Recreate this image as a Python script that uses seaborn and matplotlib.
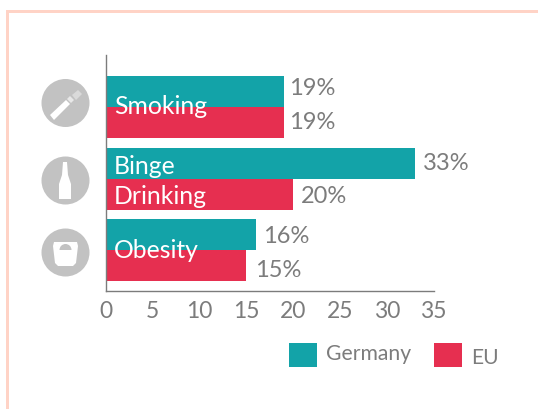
import matplotlib
matplotlib.use("Agg")
import matplotlib.pyplot as plt
from matplotlib.patches import Circle, Rectangle, Polygon, Wedge
import pandas as pd
import seaborn as sns

categories = ["Smoking", "Binge Drinking", "Obesity"]
germany = [19, 33, 16]
eu = [19, 20, 15]
series_names = ["Germany", "EU"]
x_ticks = [0, 5, 10, 15, 20, 25, 30, 35]

TEAL, RED, GREY, ICON, PINK = "#13A3A8", "#E62F50", "#7C7C7C", "#C2C2C2", "#FFD3C6"

sns.set_theme(style="white")
plt.rcParams["font.family"] = ["Lato", "DejaVu Sans"]

df = pd.DataFrame({
    "category": categories * 2,
    "series": [series_names[0]] * 3 + [series_names[1]] * 3,
    "value": germany + eu,
})

W, H = 538, 409
fig = plt.figure(figsize=(W / 100, H / 100), dpi=100, facecolor="white")
ax = fig.add_axes([106 / W, 1 - 291 / H, (433.5 - 106) / W, (291 - 55) / H])
sns.barplot(data=df, y="category", x="value", hue="series", order=categories,
            hue_order=series_names, palette=[TEAL, RED], orient="y",
            width=0.867, gap=0, saturation=1, legend=False, ax=ax, edgecolor="none")
ax.set_xlim(0, 35)
ax.set_ylim(2.573, -0.727)
ax.set_xticks(x_ticks)
ax.set_yticks([])
ax.set_xlabel("")
ax.set_ylabel("")
ax.tick_params(axis="x", length=0, pad=7.5, labelsize=16.5, labelcolor=GREY)
for s in ["top", "right"]:
    ax.spines[s].set_visible(False)
for s in ["left", "bottom"]:
    ax.spines[s].set_color(GREY)
    ax.spines[s].set_linewidth(1.0)

# per-label offsets (px right, px down) matching the hand placement in the reference
offsets = [[(5, -3), (8, 0), (7.5, 2)], [(5, 0), (7.5, 2), (8.5, 4.5)]]
for c, offs in zip(ax.containers, offsets):
    for t, (dx, dy) in zip(ax.bar_label(c, fmt="%d%%", fontsize=17, color=GREY), offs):
        t.xyann = (dx * 0.72, -dy * 0.72)
ax.patch.set_alpha(0)

ov = fig.add_axes([0, 0, 1, 1], zorder=5)
ov.set_xlim(0, W)
ov.set_ylim(H, 0)
ov.axis("off")

# frame
ov.add_patch(Rectangle((6, 10), 2.5, H, color=PINK, lw=0))
ov.add_patch(Rectangle((6, 10), W, 2.5, color=PINK, lw=0))

# category labels
lab = dict(color="white", fontsize=17.8, va="center", ha="left")
ov.text(114, 106, "Smoking", **lab)
ov.text(114, 166, "Binge", **lab)
ov.text(114, 197, "Drinking", **lab)
ov.text(114, 251, "Obesity", **lab)

# icons
for cy in [103, 180.5, 252.5]:
    ov.add_patch(Circle((65.5, cy), 24, color=ICON, lw=0))
# cigarette
ov.add_patch(Polygon([(50, 115), (66, 100), (70, 104), (54, 120)], color="white", lw=0))
ov.add_patch(Polygon([(67, 99), (70, 96), (74, 100), (71, 103)], color="#E8E8E8", lw=0))
ov.add_patch(Polygon([(72, 95), (78, 90), (82, 94), (76, 100)], color="#DADADA", lw=0))
# bottle
ov.add_patch(Polygon([(63, 162), (67, 162), (68, 175), (71, 184), (71, 199), (59, 199), (59, 184), (62, 175)],
                     color="white", lw=0))
# scale
ov.add_patch(Polygon([(54, 242), (77, 242), (78, 246), (76, 263), (73, 266), (58, 266), (55, 263), (53, 246)],
                     color="white", lw=0))
ov.add_patch(Wedge((65.5, 250), 6, 180, 360, color=ICON, lw=0))

# legend
ov.add_patch(Rectangle((289, 343), 28, 24, color=TEAL, lw=0))
ov.add_patch(Rectangle((434, 343), 28, 24, color=RED, lw=0))
ov.text(326, 354.5, series_names[0], color=GREY, fontsize=15.2, va="center", ha="left")
ov.text(471, 357.5, series_names[1], color=GREY, fontsize=15.2, va="center", ha="left")

fig.savefig("out.png", dpi=100)
